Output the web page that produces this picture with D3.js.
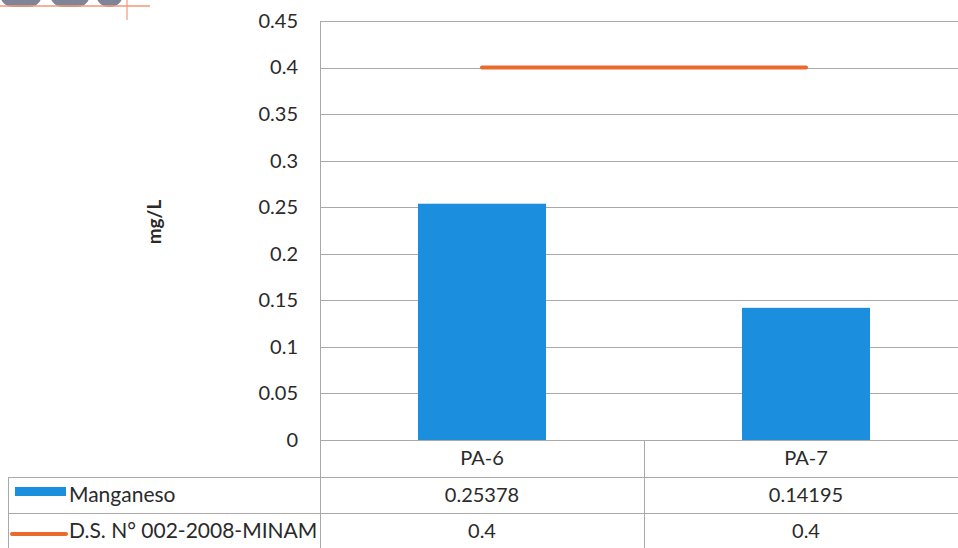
<!DOCTYPE html>
<html>
<head>
<meta charset="utf-8">
<script src="https://cdn.jsdelivr.net/npm/d3@7"></script>
<style>
  html, body { margin: 0; padding: 0; background: #fff; }
  svg { display: block; }
  text { font-family: Lato, "Open Sans", sans-serif; fill: #2a2a2a; }
</style>
</head>
<body>
<svg id="chart" width="958" height="548"></svg>
<script>
const categories = ["PA-6", "PA-7"];
const manganeso = [0.25378, 0.14195];
const limite = [0.4, 0.4];
const seriesNames = ["Manganeso", "D.S. N° 002-2008-MINAM"];
const tableValues = [["0.25378", "0.14195"], ["0.4", "0.4"]];
const yTicks = [0, 0.05, 0.1, 0.15, 0.2, 0.25, 0.3, 0.35, 0.4, 0.45];
const yTickLabels = ["0", "0.05", "0.1", "0.15", "0.2", "0.25", "0.3", "0.35", "0.4", "0.45"];
const yTitle = "mg/L";

const svg = d3.select("#chart");
const W = 958, H = 548;
const plotLeft = 320, plotRight = 968, plotTop = 21, plotBottom = 440;
const gridColor = "#a9a9a9";
const barColor = "#1b8ede";
const lineColor = "#ea6a2c";

// decorative logo fragment at top-left
const logo = svg.append("g");
[[0, 42], [50, 40], [96, 27]].forEach(([x, w]) => {
  logo.append("rect").attr("x", x).attr("y", -20).attr("width", w).attr("height", 27)
    .attr("rx", 13).attr("fill", "#7f8496");
});
logo.append("line").attr("x1", 0).attr("x2", 150).attr("y1", 6).attr("y2", 6)
  .attr("stroke", "#ef9a7a").attr("stroke-width", 1.5);
logo.append("line").attr("x1", 127).attr("x2", 127).attr("y1", 0).attr("y2", 20)
  .attr("stroke", "#ef9a7a").attr("stroke-width", 1.2);

const y = d3.scaleLinear().domain([0, 0.45]).range([plotBottom, plotTop]);
const x = d3.scaleBand().domain(categories).range([plotLeft, plotRight])
  .paddingInner(0.605).paddingOuter(0.3025);
const xc = d3.scalePoint().domain(categories).range([plotLeft, plotRight]).padding(0.5);

// gridlines
svg.append("g").selectAll("line").data(yTicks).join("line")
  .attr("x1", plotLeft).attr("x2", W)
  .attr("y1", d => Math.round(y(d)) + 0.5).attr("y2", d => Math.round(y(d)) + 0.5)
  .attr("stroke", gridColor).attr("stroke-width", 1);

// y axis line
svg.append("line").attr("x1", plotLeft + 0.5).attr("x2", plotLeft + 0.5)
  .attr("y1", plotTop).attr("y2", H).attr("stroke", gridColor);

// y axis labels via d3 axis
const yAxis = d3.axisLeft(y).tickValues(yTicks)
  .tickFormat((d, i) => yTickLabels[i]).tickSize(0).tickPadding(22);
const ya = svg.append("g").attr("transform", `translate(${plotLeft},0)`).call(yAxis);
ya.select(".domain").remove();
ya.selectAll("text").style("font-family", "Lato, 'Open Sans', sans-serif")
  .style("font-size", "20px").attr("fill", "#2a2a2a");

// y title
svg.append("text").attr("transform", `translate(161,222) rotate(-90)`)
  .attr("text-anchor", "middle").style("font-size", "19px").style("font-weight", "bold")
  .attr("fill", "#1a1a1a").text(yTitle);

// bars
svg.append("g").selectAll("rect").data(manganeso).join("rect")
  .attr("x", (d, i) => x(categories[i])).attr("width", x.bandwidth())
  .attr("y", d => y(d)).attr("height", d => y(0) - y(d))
  .attr("fill", barColor);

// limit line
const line = d3.line().x((d, i) => xc(categories[i])).y(d => y(d));
svg.append("path").datum(limite).attr("d", line)
  .attr("fill", "none").attr("stroke", lineColor).attr("stroke-width", 4)
  .attr("stroke-linecap", "round");

// data table
const rowTops = [477, 513];
const tableLeft = 8;
const t = svg.append("g");
const midLine = plotLeft + x.step();
t.append("line").attr("x1", midLine + 0.5).attr("x2", midLine + 0.5).attr("y1", plotBottom).attr("y2", H)
  .attr("stroke", gridColor);
t.append("line").attr("x1", tableLeft + 0.5).attr("x2", tableLeft + 0.5)
  .attr("y1", rowTops[0]).attr("y2", H).attr("stroke", gridColor);
rowTops.forEach(r => {
  t.append("line").attr("x1", tableLeft).attr("x2", W).attr("y1", r + 0.5).attr("y2", r + 0.5)
    .attr("stroke", gridColor);
});
// header labels
t.selectAll("text.cat").data(categories).join("text").attr("class", "cat")
  .attr("x", d => xc(d)).attr("y", 458).attr("dy", "0.35em")
  .attr("text-anchor", "middle").style("font-size", "20px").text(d => d);
// values
tableValues.forEach((row, ri) => {
  t.selectAll("text.v" + ri).data(row).join("text").attr("class", "v" + ri)
    .attr("x", (d, i) => xc(categories[i])).attr("y", rowTops[ri] + 18).attr("dy", "0.35em")
    .attr("text-anchor", "middle").style("font-size", "20px").text(d => d);
});
// legend keys
t.append("rect").attr("x", 15).attr("y", rowTops[0] + 10).attr("width", 51).attr("height", 9)
  .attr("fill", barColor);
t.append("line").attr("x1", 12).attr("x2", 66).attr("y1", rowTops[1] + 21).attr("y2", rowTops[1] + 21)
  .attr("stroke", lineColor).attr("stroke-width", 4).attr("stroke-linecap", "round");
seriesNames.forEach((n, i) => {
  t.append("text").attr("x", 69).attr("y", rowTops[i] + 18).attr("dy", "0.35em")
    .style("font-size", "21px").text(n);
});
</script>
</body>
</html>
